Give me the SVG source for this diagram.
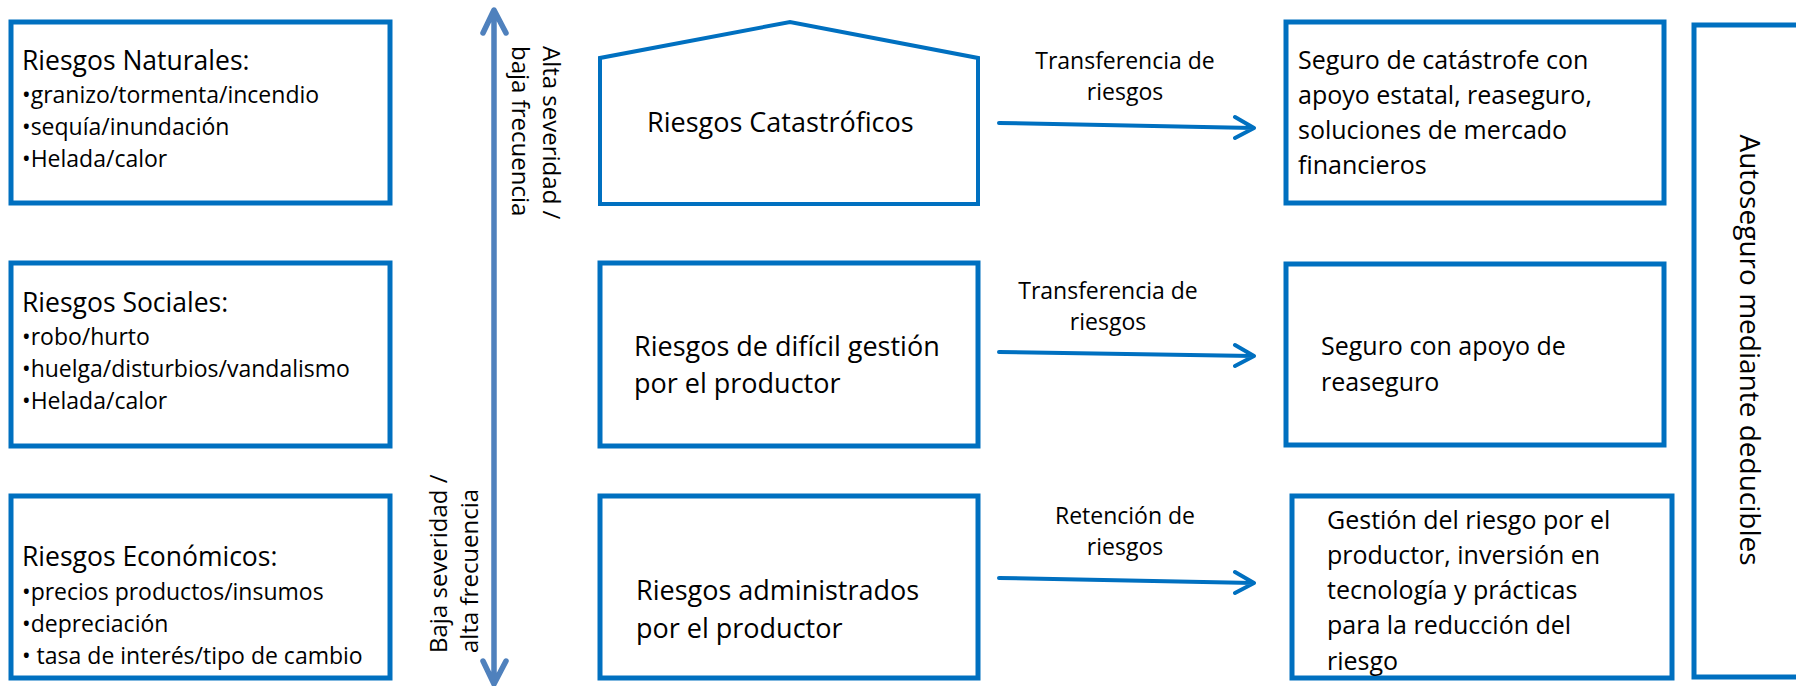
<svg xmlns="http://www.w3.org/2000/svg" width="1796" height="686" viewBox="0 0 1796 686">
<style>
.box{fill:#fff;stroke:#0070C0;stroke-width:5}
.house{fill:#fff;stroke:#0070C0;stroke-width:4;stroke-linejoin:miter}
text{font-family:"Open Sans","Noto Sans","DejaVu Sans",sans-serif;fill:#000}
.t{font-size:26.5px}
.b{font-size:23px}
.m{font-size:27px}
.lbl{font-size:23px;text-anchor:middle}
.r{font-size:25px}
.v{font-size:24px}
.auto{font-size:28px;text-anchor:middle}
.arr{fill:none;stroke:#0070C0;stroke-width:4;stroke-linecap:round;stroke-linejoin:round}
.varr{fill:none;stroke:#4F81BD;stroke-width:5.5;stroke-linecap:round;stroke-linejoin:round}
</style>
<rect width="1796" height="686" fill="#fff"/>
<g id="naturales">
<rect class="box" x="11" y="22" width="379" height="181"/>
<text class="t" x="22" y="70">Riesgos Naturales:</text>
<text class="b" x="22" y="103">•granizo/tormenta/incendio</text>
<text class="b" x="22" y="135">•sequía/inundación</text>
<text class="b" x="22" y="167">•Helada/calor</text>
</g>
<g id="sociales">
<rect class="box" x="11" y="263" width="379" height="183"/>
<text class="t" x="22" y="312">Riesgos Sociales:</text>
<text class="b" x="22" y="345">•robo/hurto</text>
<text class="b" x="22" y="377">•huelga/disturbios/vandalismo</text>
<text class="b" x="22" y="409">•Helada/calor</text>
</g>
<g id="economicos">
<rect class="box" x="11" y="496" width="379" height="182"/>
<text class="t" x="22" y="566">Riesgos Económicos:</text>
<text class="b" x="22" y="600">•precios productos/insumos</text>
<text class="b" x="22" y="632">•depreciación</text>
<text class="b" x="22" y="664">• tasa de interés/tipo de cambio</text>
</g>
<g id="eje">
<path class="varr" d="M494,12 V683 M483,33 L494,10 L506,33 M483,661 L494,684 L506,661"/>
<text class="v" transform="translate(543,46) rotate(90)">Alta severidad /</text>
<text class="v" transform="translate(512,46) rotate(90)">baja frecuencia</text>
<text class="v" transform="translate(447,653) rotate(-90)">Baja severidad /</text>
<text class="v" transform="translate(478,653) rotate(-90)">alta frecuencia</text>
</g>
<g id="catastroficos">
<polygon class="house" points="600,204 600,58 790,22 978,58 978,204"/>
<text class="m" x="647" y="132">Riesgos Catastróficos</text>
</g>
<g id="dificil">
<rect class="box" x="600" y="263" width="378" height="183"/>
<text class="m" x="634" y="356">Riesgos de difícil gestión</text>
<text class="m" x="634" y="393">por el productor</text>
</g>
<g id="administrados">
<rect class="box" x="600" y="496" width="378" height="182"/>
<text class="m" x="636" y="600">Riesgos administrados</text>
<text class="m" x="636" y="638">por el productor</text>
</g>
<g id="conectores">
<path class="arr" d="M999,123 L1253,128 M1235,117 L1254,128 L1235,138"/>
<path class="arr" d="M999,352 L1253,356 M1235,345 L1254,356 L1235,366"/>
<path class="arr" d="M999,578 L1253,583 M1235,572 L1254,583 L1235,593"/>
<text class="lbl" x="1125" y="69">Transferencia de</text>
<text class="lbl" x="1125" y="100">riesgos</text>
<text class="lbl" x="1108" y="299">Transferencia de</text>
<text class="lbl" x="1108" y="330">riesgos</text>
<text class="lbl" x="1125" y="524">Retención de</text>
<text class="lbl" x="1125" y="555">riesgos</text>
</g>
<g id="catastrofe">
<rect class="box" x="1286" y="22" width="378" height="181"/>
<text class="r" x="1298" y="69">Seguro de catástrofe con</text>
<text class="r" x="1298" y="104">apoyo estatal, reaseguro,</text>
<text class="r" x="1298" y="139">soluciones de mercado</text>
<text class="r" x="1298" y="174">financieros</text>
</g>
<g id="reaseguro">
<rect class="box" x="1286" y="264" width="378" height="181"/>
<text class="r" x="1321" y="355">Seguro con apoyo de</text>
<text class="r" x="1321" y="391">reaseguro</text>
</g>
<g id="gestion">
<rect class="box" x="1292" y="496" width="380" height="182"/>
<text class="r" x="1327" y="529">Gestión del riesgo por el</text>
<text class="r" x="1327" y="564">productor, inversión en</text>
<text class="r" x="1327" y="599">tecnología y prácticas</text>
<text class="r" x="1327" y="634">para la reducción del</text>
<text class="r" x="1327" y="670">riesgo</text>
</g>
<g id="autoseguro">
<rect class="box" x="1694" y="25" width="130" height="652"/>
<text class="auto" transform="translate(1740,350) rotate(90)">Autoseguro mediante deducibles</text>
</g>
</svg>
